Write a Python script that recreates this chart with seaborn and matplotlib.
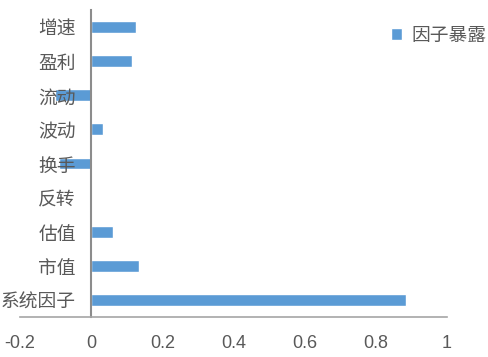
import matplotlib
matplotlib.use("Agg")
import matplotlib.pyplot as plt
import seaborn as sns
import pandas as pd

categories = ["增速", "盈利", "流动", "波动", "换手", "反转", "估值", "市值", "系统因子"]
values = [0.125, 0.115, -0.103, 0.033, -0.09, -0.002, 0.062, 0.134, 0.886]
xticks = [-0.2, 0, 0.2, 0.4, 0.6, 0.8, 1]
xticklabels = ["-0.2", "0", "0.2", "0.4", "0.6", "0.8", "1"]
series_name = "因子暴露"

sns.set_theme(style="white")
plt.rcParams["font.family"] = ["Noto Sans CJK SC", "DejaVu Sans"]
plt.rcParams["axes.unicode_minus"] = False

df = pd.DataFrame({"cat": categories, "val": values})

fig = plt.figure(figsize=(4.89, 3.57), dpi=100)
ax = fig.add_axes([20/489, 1 - 317/357, 427/489, 307/357])

sns.barplot(data=df, x="val", y="cat", orient="h", color="#5B9BD5",
            saturation=1, width=0.35, label=series_name, ax=ax)
ax.set_axisbelow(False)

ax.set_xlim(-0.2, 1.0)
ax.set_xticks(xticks)
ax.set_xticklabels(xticklabels, fontfamily="Liberation Sans", fontsize=13, color="#595959")
ax.set_xlabel("")
ax.set_ylabel("")

for s in ["top", "right"]:
    ax.spines[s].set_visible(False)
ax.spines["left"].set_position(("data", 0))
ax.spines["left"].set_color("#8C8C8C")
ax.spines["left"].set_linewidth(1.5)
ax.spines["bottom"].set_color("#A6A6A6")
ax.spines["bottom"].set_linewidth(1.2)
ax.tick_params(axis="both", length=0)
ax.tick_params(axis="y", pad=11, labelsize=13.5, labelcolor="#595959")
ax.tick_params(axis="x", pad=13)

leg = ax.legend(loc="center left", bbox_to_anchor=(0.87, 0.918), frameon=False,
                handlelength=0.55, handleheight=0.55, handletextpad=0.5,
                borderpad=0, borderaxespad=0, prop={"size": 13.5})
for t in leg.get_texts():
    t.set_color("#595959")

fig.savefig("out.png", dpi=100)
